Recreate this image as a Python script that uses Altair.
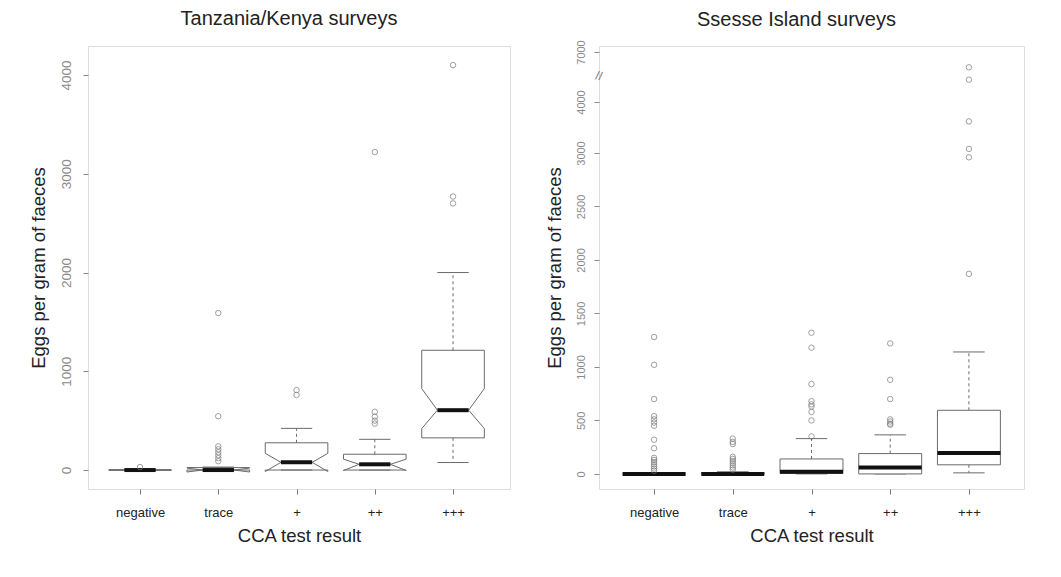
import json
import altair as alt
import pandas as pd

categories = ["negative", "trace", "+", "++", "+++"]

# Tanzania/Kenya surveys (notched boxes)
tk_whisker_low = [0, 0, 0, 0, 76]
tk_q1 = [0, 0, 0, 0, 326]
tk_notch_low = [0, -20, -15, -5, 420]
tk_median = [0, 0, 78, 58, 606]
tk_notch_high = [0, 20, 169, 110, 825]
tk_q3 = [0, 25, 276, 160, 1213]
tk_whisker_high = [0, 30, 422, 311, 2000]
tk_outliers = [
    [30],
    [1590, 545, 240, 210, 180, 150, 120, 90],
    [810, 760],
    [3220, 590, 540, 500, 470],
    [4100, 2770, 2700],
]

# Ssesse Island surveys (plain boxes)
ss_whisker_low = [0, 0, 0, 0, 10]
ss_q1 = [0, 0, 5, 0, 85]
ss_median = [0, 0, 20, 60, 195]
ss_q3 = [0, 10, 140, 190, 595]
ss_whisker_high = [0, 20, 330, 365, 1140]
ss_outliers = [
    [1280, 1020, 700, 540, 510, 480, 450, 320, 240, 150, 130, 110, 90, 70, 50, 30],
    [330, 300, 280, 160, 140, 120, 100, 80, 60, 40],
    [1320, 1180, 840, 680, 650, 630, 580, 500, 350],
    [1220, 880, 700, 510, 490, 470, 460],
    [6080, 5340, 3620, 3080, 2960, 1870],
]

tk_yticks = [0, 1000, 2000, 3000, 4000]
ss_yticks = [0, 500, 1000, 1500, 2000, 2500, 3000, 4000, 7000]

FONT = "Liberation Sans"
LINE = "#6a6a6a"
HALF = 0.4
NOTCH_FRAC = 0.5


def stats_df(wl, q1, med, q3, wh, nlo=None, nhi=None):
    rows = []
    for i, c in enumerate(categories):
        r = dict(idx=i + 1, cat=c, wl=wl[i], q1=q1[i], med=med[i], q3=q3[i], wh=wh[i])
        if nlo is not None:
            r["nlo"] = nlo[i]
            r["nhi"] = nhi[i]
        rows.append(r)
    return pd.DataFrame(rows)


def outlier_df(outs):
    return pd.DataFrame(
        [dict(idx=i + 1, cat=categories[i], value=v) for i, lst in enumerate(outs) for v in lst]
    )


def notch_polygon_df(stats):
    sx = [-1, 1, 1, NOTCH_FRAC, 1, 1, -1, -1, -NOTCH_FRAC, -1, -1]
    rows = []
    for r in stats.to_dict("records"):
        ys = [r["q1"], r["q1"], r["nlo"], r["med"], r["nhi"], r["q3"], r["q3"],
              r["nhi"], r["med"], r["nlo"], r["q1"]]
        for k, (dx, y) in enumerate(zip(sx, ys)):
            rows.append(dict(cat=r["cat"], k=k, x=r["idx"] + dx * HALF, y=y))
    return pd.DataFrame(rows)


label_expr = json.dumps(categories) + "[datum.value - 1]"

X_AXIS = alt.Axis(
    values=[1, 2, 3, 4, 5],
    labelExpr=label_expr,
    title="CCA test result",
    grid=False,
    domain=False,
    tickSize=5,
    tickColor="#777",
    labelPadding=12,
    labelFontSize=13,
    labelColor="#222",
    labelFont=FONT,
    titleFont=FONT,
    titleFontSize=18.5,
    titleFontWeight="normal",
    titleColor="#222",
    titlePadding=7,
)


def y_axis(values, pad, label_size):
    return alt.Axis(
        values=values,
        format="d",
        title="Eggs per gram of faeces",
        grid=False,
        domain=False,
        tickSize=5,
        tickColor="#888",
        labelAngle=-90,
        labelAlign="center",
        labelBaseline="bottom",
        labelPadding=pad,
        labelFontSize=label_size,
        labelColor="#8a8a8a",
        labelFont=FONT,
        titleFont=FONT,
        titleFontSize=18.5,
        titleFontWeight="normal",
        titleColor="#222",
        titlePadding=11,
    )


def panel(stats, outs, xdomain, yscale, yaxis, notched, title, title_dx, title_offset,
          width, height):
    xscale = alt.Scale(domain=xdomain, nice=False, zero=False)

    def x(field):
        return alt.X(field, type="quantitative", scale=xscale, axis=X_AXIS)

    def y(field):
        return alt.Y(field, type="quantitative", scale=yscale, axis=yaxis)

    base = alt.Chart(stats).transform_calculate(
        xl=f"datum.idx - {HALF}",
        xr=f"datum.idx + {HALF}",
        cl=f"datum.idx - {HALF * NOTCH_FRAC}",
        cr=f"datum.idx + {HALF * NOTCH_FRAC}",
    )
    whisk_hi = base.mark_rule(color=LINE, strokeDash=[3, 3], strokeWidth=1).encode(
        x=x("idx"), y=y("q3"), y2="wh:Q"
    )
    whisk_lo = base.mark_rule(color=LINE, strokeDash=[3, 3], strokeWidth=1).encode(
        x=x("idx"), y=y("q1"), y2="wl:Q"
    )
    cap_hi = base.mark_rule(color=LINE, strokeWidth=1).encode(
        x=x("cl"), x2="cr:Q", y=y("wh")
    )
    cap_lo = base.mark_rule(color=LINE, strokeWidth=1).encode(
        x=x("cl"), x2="cr:Q", y=y("wl")
    )
    layers = [whisk_hi, whisk_lo, cap_hi, cap_lo]
    if notched:
        poly = alt.Chart(notch_polygon_df(stats)).mark_line(color=LINE, strokeWidth=1).encode(
            x=x("x"), y=y("y"), detail="cat:N", order="k:Q",
        )
        med = base.mark_rule(color="#111", strokeWidth=4).encode(
            x=x("cl"), x2="cr:Q", y=y("med")
        )
        layers += [poly, med]
    else:
        box = base.mark_rect(fill="white", stroke=LINE, strokeWidth=1).encode(
            x=x("xl"), x2="xr:Q", y=y("q1"), y2="q3:Q"
        )
        med = base.mark_rule(color="#111", strokeWidth=4).encode(
            x=x("xl"), x2="xr:Q", y=y("med")
        )
        layers += [box, med]
    pts = alt.Chart(outs).mark_point(
        shape="circle", filled=False, size=30, strokeWidth=1, color="#777"
    ).encode(x=x("idx"), y=y("value"))
    layers.append(pts)
    return alt.layer(*layers).properties(
        width=width,
        height=height,
        title=alt.TitleParams(
            text=title, font=FONT, fontSize=20, fontWeight="normal",
            color="#222", offset=title_offset, dx=title_dx, anchor="middle", frame="group",
        ),
    )


tk_stats = stats_df(tk_whisker_low, tk_q1, tk_median, tk_q3, tk_whisker_high,
                    tk_notch_low, tk_notch_high)
ss_stats = stats_df(ss_whisker_low, ss_q1, ss_median, ss_q3, ss_whisker_high)

tk_scale = alt.Scale(domain=[-192, 4294], nice=False, zero=False)
ss_scale = alt.Scale(domain=[-141, 3000, 4000, 7000, 7360],
                     range=[443, 107, 56, 6, 0], nice=False, zero=False)
ss_axis = y_axis(ss_yticks, 8, 11)

left = panel(tk_stats, outlier_df(tk_outliers), [0.335, 5.728], tk_scale,
             y_axis(tk_yticks, 10, 13.5), True, "Tanzania/Kenya surveys", -10, 17, 422, 443)
right_core = panel(ss_stats, outlier_df(ss_outliers), [0.3, 5.7], ss_scale, ss_axis,
                   False, "Ssesse Island surveys", -15, 10, 425, 443)

axis_break = alt.Chart(pd.DataFrame({"b": [5560]})).mark_text(
    text="//", font=FONT, fontSize=12, color="#777", angle=10
).encode(x=alt.value(0), y=alt.Y("b:Q", scale=ss_scale, axis=ss_axis))
right = alt.layer(right_core, axis_break)

chart = alt.hconcat(left, right, spacing=33).properties(
    padding={"left": 20, "top": 0, "right": 5, "bottom": 5}
).configure_view(stroke="#999", strokeWidth=1).configure(background="white")

chart.save("out.html", embed_options={"renderer": "svg", "actions": False})
